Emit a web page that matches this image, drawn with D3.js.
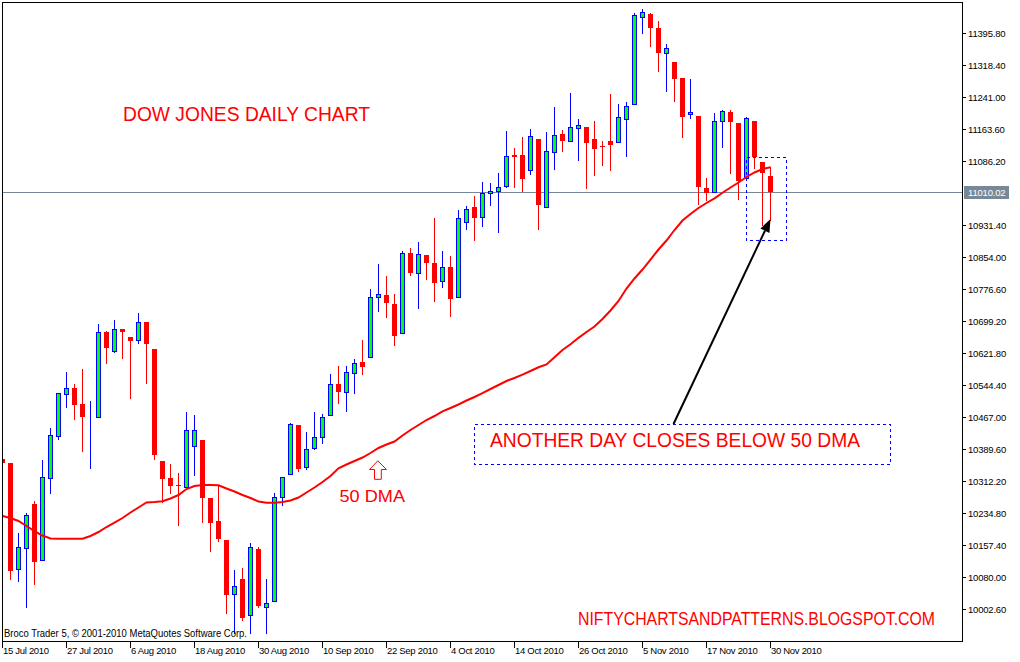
<!DOCTYPE html>
<html><head><meta charset="utf-8">
<script src="https://cdn.jsdelivr.net/npm/d3@7"></script>
<style>html,body{margin:0;padding:0;background:#fff;} svg{display:block;}</style>
</head><body>
<svg id="c" width="1020" height="662"></svg>
<script>
const dates = [
"2010-07-15","2010-07-16","2010-07-19","2010-07-20","2010-07-21","2010-07-22","2010-07-23","2010-07-26","2010-07-27","2010-07-28","2010-07-29","2010-07-30",
"2010-08-02","2010-08-03","2010-08-04","2010-08-05","2010-08-06","2010-08-09","2010-08-10","2010-08-11","2010-08-12","2010-08-13","2010-08-16","2010-08-17","2010-08-18","2010-08-19","2010-08-20","2010-08-23","2010-08-24","2010-08-25","2010-08-26","2010-08-27","2010-08-30","2010-08-31",
"2010-09-01","2010-09-02","2010-09-03","2010-09-07","2010-09-08","2010-09-09","2010-09-10","2010-09-13","2010-09-14","2010-09-15","2010-09-16","2010-09-17","2010-09-20","2010-09-21","2010-09-22","2010-09-23","2010-09-24","2010-09-27","2010-09-28","2010-09-29","2010-09-30",
"2010-10-01","2010-10-04","2010-10-05","2010-10-06","2010-10-07","2010-10-08","2010-10-11","2010-10-12","2010-10-13","2010-10-14","2010-10-15","2010-10-18","2010-10-19","2010-10-20","2010-10-21","2010-10-22","2010-10-25","2010-10-26","2010-10-27","2010-10-28","2010-10-29",
"2010-11-01","2010-11-02","2010-11-03","2010-11-04","2010-11-05","2010-11-08","2010-11-09","2010-11-10","2010-11-11","2010-11-12","2010-11-15","2010-11-16","2010-11-17","2010-11-18","2010-11-19","2010-11-22","2010-11-23","2010-11-24","2010-11-26","2010-11-29","2010-11-30"];

const openP = [10365.4,10355.0,10098.6,10149.4,10256.5,10120.4,10318.7,10421.7,10523.3,10536.4,10498.4,10464.0,
10466.3,10672.6,10626.6,10679.8,10660.5,10652.5,10697.5,10631.5,10360.6,10319.4,10302.5,10296.9,10396.8,10411.4,10271.1,10215.4,10169.5,10038.1,10075.1,9987.3,10147.7,10008.2,
10022.7,10272.7,10328.4,10447.6,10345.3,10392.7,10417.9,10471.1,10546.1,10528.2,10572.7,10599.3,10611.4,10756.5,10761.3,10740.3,10669.4,10862.9,10814.5,10858.8,10839.5,
10795.2,10829.1,10758.0,10937.9,10974.2,10951.5,11009.5,11012.9,11026.4,11100.7,11100.7,11064.4,11139.4,10975.6,11108.7,11151.5,11135.3,11165.3,11169.1,11139.4,11122.5,
11134.6,11132.9,11187.0,11223.3,11435.2,11441.7,11408.6,11346.7,11326.4,11286.9,11199.1,11195.0,11020.1,11011.9,11183.7,11204.0,11178.8,11045.8,11182.9,11083.0,11049.9];

const highP = [10366.0,10355.0,10187.1,10235.5,10264.5,10363.0,10440.4,10524.3,10575.8,10546.8,10583.1,10505.7,
10691.9,10675.7,10701.6,10679.8,10660.5,10719.3,10697.5,10631.5,10360.6,10353.3,10331.5,10478.3,10471.8,10411.4,10271.1,10302.5,10169.5,10096.9,10101.0,10161.5,10153.3,10075.1,
10282.4,10322.6,10453.2,10447.6,10431.4,10478.3,10473.5,10571.0,10590.3,10591.1,10607.3,10653.2,10776.6,10837.1,10808.0,10764.5,10868.5,10875.0,10889.5,10858.8,10948.3,
10868.5,10856.4,10967.7,10976.6,11001.5,11035.4,11032.2,11057.9,11159.5,11116.9,11143.5,11163.6,11139.4,11155.6,11217.5,11161.2,11251.4,11187.0,11169.1,11182.9,11134.6,
11248.2,11224.0,11227.7,11443.4,11453.8,11443.4,11424.8,11369.2,11326.4,11286.9,11284.5,11195.0,11044.3,11201.6,11209.5,11209.5,11178.8,11193.3,11182.9,11083.0,11071.7];

const lowP = [10355.0,10075.9,10071.0,10006.7,10063.1,10120.4,10283.9,10413.0,10491.9,10461.4,10385.5,10344.4,
10466.3,10598.3,10624.2,10610.4,10513.7,10646.7,10549.9,10366.1,10261.4,10283.9,10206.5,10296.9,10327.4,10213.7,10143.6,10167.8,9992.2,9943.8,9976.0,9943.8,10008.2,9943.8,
10022.7,10254.1,10328.4,10336.4,10340.5,10388.8,10403.4,10471.1,10501.6,10482.2,10525.8,10570.3,10611.4,10724.1,10709.6,10641.1,10669.4,10810.4,10731.3,10800.8,10748.3,
10782.1,10712.0,10758.0,10921.0,10895.1,10929.7,10979.8,10915.2,11024.0,11024.0,11013.6,11054.7,10921.0,10975.6,11066.8,11111.1,11135.3,11088.6,11021.6,11052.3,11076.5,
11064.4,11132.9,11099.0,11223.3,11396.5,11365.1,11303.9,11256.2,11232.0,11145.0,11190.9,10981.4,10991.9,11011.9,11120.8,11056.4,10994.3,11045.8,11070.0,10931.4,10943.5];

const closeP = [10355.7,10095.2,10151.8,10229.2,10117.0,10321.1,10422.7,10524.3,10536.4,10495.3,10466.3,10465.0,
10671.8,10634.6,10679.1,10673.3,10651.5,10696.8,10642.8,10375.1,10317.7,10300.8,10299.3,10434.8,10434.8,10270.3,10211.3,10172.6,10036.4,10057.5,9981.5,10151.8,10009.8,10016.4,
10272.7,10322.6,10449.3,10340.5,10388.8,10417.9,10466.3,10546.1,10528.2,10575.1,10596.9,10588.7,10756.5,10763.8,10742.0,10663.6,10862.9,10814.5,10860.5,10838.7,10790.4,
10830.5,10753.1,10947.6,10970.1,10949.0,11008.1,11013.6,11022.6,11098.3,11096.6,11042.6,11146.6,10979.8,11110.4,11149.1,11135.3,11167.7,11173.3,11129.0,11115.2,11120.8,
11124.9,11191.9,11219.2,11439.3,11445.8,11408.6,11348.1,11358.8,11285.2,11193.3,11204.0,11024.0,11009.5,11183.7,11207.1,11181.2,11037.8,11189.5,11095.1,11057.2,11010.02];

const ma50 = [10227.5,10222.7,10215.4,10203.3,10191.2,10180.3,10173.1,10172.6,10172.6,10172.6,10172.6,10179.2,
10188.8,10200.9,10211.8,10222.7,10236.0,10248.1,10260.2,10261.4,10263.1,10269.8,10278.3,10292.8,10300.1,10302.5,10302.5,10301.8,10294.0,10286.8,10278.3,10271.1,10262.6,10259.7,
10259.7,10261.4,10265.0,10272.3,10284.4,10296.5,10309.8,10324.3,10342.9,10352.1,10360.6,10369.0,10379.9,10392.0,10400.5,10407.7,10422.2,10435.5,10447.6,10459.7,10469.4,
10480.8,10488.8,10497.2,10506.9,10515.4,10525.0,10534.7,10544.4,10554.1,10561.3,10569.5,10578.2,10587.4,10594.2,10611.6,10629.0,10643.1,10658.5,10672.6,10685.9,10704.0,
10724.6,10747.6,10777.8,10802.0,10823.7,10847.9,10872.1,10893.9,10919.3,10942.3,10958.0,10972.5,10984.6,10996.0,11009.5,11022.1,11034.2,11047.5,11058.4,11066.8,11070.9];

const yTickLabels = [10002.60,10080.00,10157.40,10234.80,10312.20,10389.60,10467.00,10544.40,10621.80,10699.20,10776.60,10854.00,10931.40,11010.02,11086.20,11163.60,11241.00,11318.40,11395.80];
const lastPrice = 11010.02;
const xTickDates = ["2010-07-15","2010-07-27","2010-08-06","2010-08-18","2010-08-30","2010-09-10","2010-09-22","2010-10-04","2010-10-14","2010-10-26","2010-11-05","2010-11-17","2010-11-30"];

const svg = d3.select("#c");
const parse = d3.timeParse("%Y-%m-%d");
const fmt = d3.timeFormat("%-d %b %Y");
const x = d3.scaleLinear().domain([0, dates.length - 1]).range([2.5, 770.5]);
const y = d3.scaleLinear().domain([10002.6, 11395.8]).range([609, 33]);
const ry = v => Math.round(y(v));

const L = 2.5, R = 962.5, T = 2.5, B = 641.5;
const axisFont = "'Liberation Sans', Arial, sans-serif";

svg.append("rect").attr("width", 1020).attr("height", 662).attr("fill", "#fff");
svg.append("defs").append("clipPath").attr("id", "pc")
  .append("rect").attr("x", 3).attr("y", 3).attr("width", R - 3).attr("height", B - 3);

// last price line
svg.append("line").attr("x1", L).attr("x2", R)
  .attr("y1", ry(lastPrice) + 0.5).attr("y2", ry(lastPrice) + 0.5)
  .attr("stroke", "#778899").attr("stroke-width", 1);

const plot = svg.append("g").attr("clip-path", "url(#pc)");
const idx = d3.range(dates.length);

// wicks
plot.selectAll("line.wick").data(idx).join("line").attr("class", "wick")
  .attr("x1", i => x(i)).attr("x2", i => x(i))
  .attr("y1", i => ry(highP[i])).attr("y2", i => ry(lowP[i]) + 1)
  .attr("stroke", i => closeP[i] >= openP[i] ? "#0000ff" : "#ff0000")
  .attr("stroke-width", 1).attr("shape-rendering", "crispEdges");

// bodies
plot.selectAll("rect.body").data(idx).join("rect").attr("class", "body")
  .each(function(i) {
    const up = closeP[i] >= openP[i];
    const s = d3.select(this);
    if (up) {
      const t = ry(closeP[i]), b = ry(openP[i]);
      s.attr("x", x(i) - 2).attr("width", 4)
       .attr("y", t + 0.5).attr("height", Math.max(b - t, 0))
       .attr("fill", "#00ff00").attr("stroke", "#0000ff").attr("stroke-width", 1);
    } else {
      const t = ry(openP[i]), b = ry(closeP[i]);
      s.attr("x", x(i) - 2.5).attr("width", 5)
       .attr("y", t).attr("height", Math.max(b - t, 1))
       .attr("fill", "#ff0000");
    }
  }).attr("shape-rendering", "crispEdges");

// 50 DMA
plot.append("path").datum(idx)
  .attr("d", d3.line().x(i => x(i)).y(i => y(ma50[i])))
  .attr("fill", "none").attr("stroke", "#ff0000").attr("stroke-width", 2);

// frame
svg.append("path").attr("d", `M${L},${B}V${T}H${R}V${B}H${L}`)
  .attr("fill", "none").attr("stroke", "#000").attr("stroke-width", 1)
  .attr("shape-rendering", "crispEdges");

// right axis
const ra = svg.append("g").attr("font-family", axisFont).attr("font-size", 9.5);
yTickLabels.forEach(v => {
  const yy = ry(v) + 0.5;
  const isLast = v === lastPrice;
  if (isLast) {
    ra.append("rect").attr("x", 964).attr("y", yy - 6.5).attr("width", 45).attr("height", 13)
      .attr("fill", "#778899");
  } else {
    ra.append("line").attr("x1", R).attr("x2", 966).attr("y1", yy).attr("y2", yy)
      .attr("stroke", "#000").attr("shape-rendering", "crispEdges");
  }
  ra.append("text").attr("x", 968).attr("y", yy).attr("dy", "0.35em")
    .attr("letter-spacing", "-0.2")
    .attr("fill", isLast ? "#fff" : "#000").text(v.toFixed(2));
});

// bottom axis
const ba = svg.append("g").attr("font-family", axisFont).attr("font-size", 9.5);
xTickDates.forEach(d => {
  const i = dates.indexOf(d);
  const xx = x(i);
  ba.append("line").attr("x1", xx).attr("x2", xx).attr("y1", B).attr("y2", B + 6)
    .attr("stroke", "#000").attr("shape-rendering", "crispEdges");
  ba.append("text").attr("x", xx + 0.5).attr("y", 654).attr("letter-spacing", "-0.3")
    .attr("fill", "#000").text(fmt(parse(d)));
});

// footer
svg.append("text").attr("x", 4).attr("y", 637).attr("font-family", axisFont)
  .attr("font-size", 10).attr("textLength", 243).attr("lengthAdjust", "spacingAndGlyphs")
  .attr("fill", "#000").text("Broco Trader 5, \u00A9 2001-2010 MetaQuotes Software Corp.");

// annotations
const annFont = "'Liberation Sans', Arial, sans-serif";
svg.append("text").attr("x", 123).attr("y", 121).attr("font-family", annFont)
  .attr("font-size", 19.5).attr("textLength", 247).attr("lengthAdjust", "spacingAndGlyphs")
  .attr("fill", "#ff0000").text("DOW JONES DAILY CHART");

svg.append("text").attr("x", 339.5).attr("y", 501.5).attr("font-family", annFont)
  .attr("font-size", 17).attr("textLength", 65.5).attr("lengthAdjust", "spacingAndGlyphs")
  .attr("fill", "#ff0000").text("50 DMA");

svg.append("polygon")
  .attr("points", "377.8,460.8 369.5,469.5 374.5,469.5 374.5,479.3 381.3,479.3 381.3,469.5 386.5,469.5")
  .attr("fill", "#fff").attr("stroke", "#ff0000").attr("stroke-width", 1);

svg.append("rect").attr("x", 474.5).attr("y", 424.5).attr("width", 416).attr("height", 39.5)
  .attr("fill", "none").attr("stroke", "#0000ff").attr("stroke-width", 1)
  .attr("stroke-dasharray", "3,3").attr("shape-rendering", "crispEdges");

svg.append("text").attr("x", 490).attr("y", 447.3).attr("font-family", annFont)
  .attr("font-size", 19.5).attr("textLength", 370).attr("lengthAdjust", "spacingAndGlyphs")
  .attr("fill", "#ff0000").text("ANOTHER DAY CLOSES BELOW 50 DMA");

svg.append("rect").attr("x", 746.5).attr("y", 157.5).attr("width", 40).attr("height", 82.5)
  .attr("fill", "none").attr("stroke", "#0000ff").attr("stroke-width", 1)
  .attr("stroke-dasharray", "3,3").attr("shape-rendering", "crispEdges");

// black arrow to last candle's low
const tipX = x(dates.length - 1), tipY = y(lowP[dates.length - 1]) - 1;
const sx = 673.5, sy = 424;
const ang = Math.atan2(tipY - sy, tipX - sx);
const hl = 13, hw = 5;
const bx = tipX - hl * Math.cos(ang), by = tipY - hl * Math.sin(ang);
svg.append("line").attr("x1", sx).attr("y1", sy).attr("x2", bx).attr("y2", by)
  .attr("stroke", "#000").attr("stroke-width", 2);
svg.append("polygon").attr("points", [
  [tipX, tipY],
  [bx + hw * Math.sin(ang), by - hw * Math.cos(ang)],
  [bx - hw * Math.sin(ang), by + hw * Math.cos(ang)]
].map(p => p.join(",")).join(" ")).attr("fill", "#000");

svg.append("text").attr("x", 578).attr("y", 625).attr("font-family", annFont)
  .attr("font-size", 17.5).attr("textLength", 357).attr("lengthAdjust", "spacingAndGlyphs")
  .attr("fill", "#ff0000").text("NIFTYCHARTSANDPATTERNS.BLOGSPOT.COM");
</script>
</body></html>
